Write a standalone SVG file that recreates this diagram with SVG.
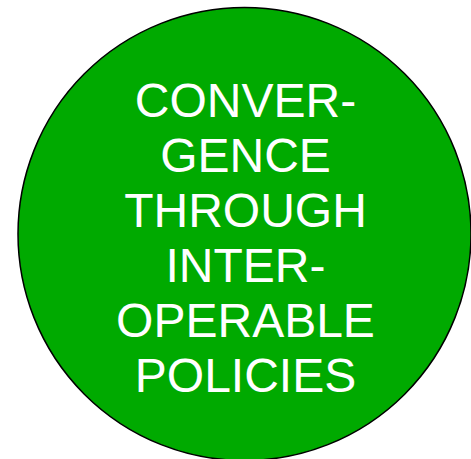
<svg xmlns="http://www.w3.org/2000/svg" width="471" height="459" viewBox="0 0 471 459">
<style>
.t{font-family:"Liberation Sans",Arial,sans-serif;font-size:48px;fill:#ffffff;text-anchor:middle}
</style>
<rect width="471" height="459" fill="#ffffff"/>
<g id="node-circle">
<circle cx="244.5" cy="234" r="226.5" fill="#00aa00" stroke="#000000" stroke-width="1.5"/>
<text class="t" x="245.5" y="116.5">CONVER-</text>
<text class="t" x="245.5" y="171.6">GENCE</text>
<text class="t" x="245.5" y="226.7">THROUGH</text>
<text class="t" x="245.5" y="281.8">INTER-</text>
<text class="t" x="245.5" y="336.9">OPERABLE</text>
<text class="t" x="245.5" y="392">POLICIES</text>
</g>
<g id="connectors"/>
</svg>
